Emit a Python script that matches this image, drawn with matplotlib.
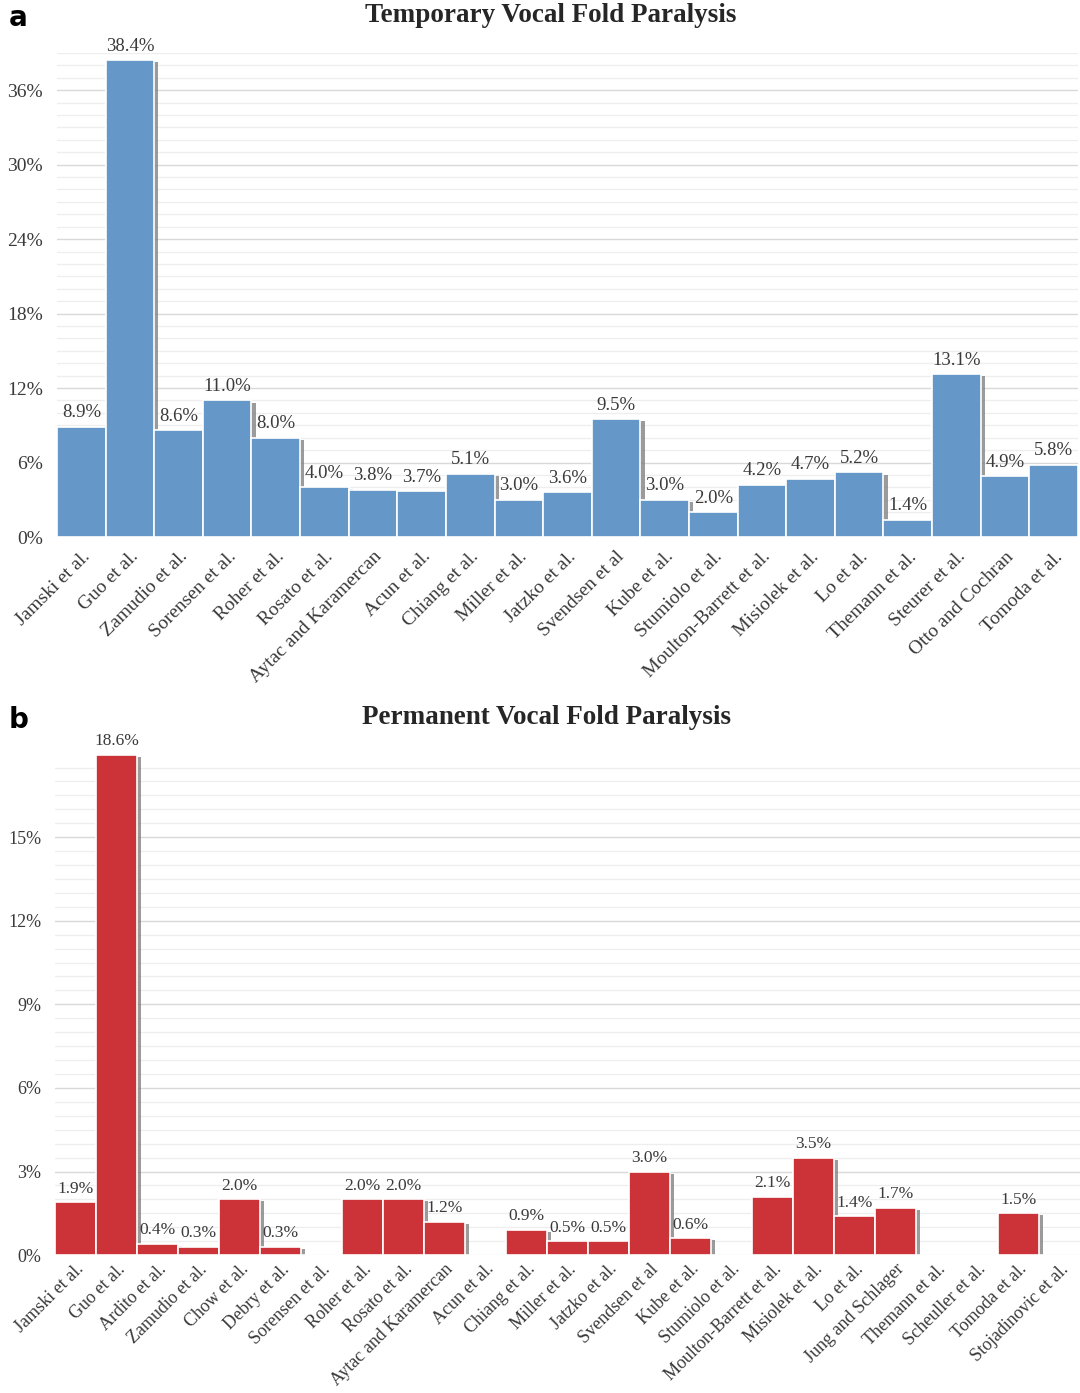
import matplotlib
matplotlib.use('Agg')
from matplotlib import pyplot as plt
import matplotlib.patheffects as pe
from matplotlib.ticker import MultipleLocator, FuncFormatter

plt.rcParams['font.family'] = ['Liberation Serif', 'DejaVu Serif']

temp_studies = ['Jamski et al.', 'Guo et al.', 'Zamudio et al.', 'Sorensen et al.', 'Roher et al.',
                'Rosato et al.', 'Aytac and Karamercan', 'Acun et al.', 'Chiang et al.', 'Miller et al.',
                'Jatzko et al.', 'Svendsen et al', 'Kube et al.', 'Stumiolo et al.', 'Moulton-Barrett et al.',
                'Misiolek et al.', 'Lo et al.', 'Themann et al.', 'Steurer et al.', 'Otto and Cochran',
                'Tomoda et al.']
temp_values = [8.9, 38.4, 8.6, 11.0, 8.0, 4.0, 3.8, 3.7, 5.1, 3.0, 3.6, 9.5, 3.0, 2.0, 4.2,
               4.7, 5.2, 1.4, 13.1, 4.9, 5.8]

perm_studies = ['Jamski et al.', 'Guo et al.', 'Ardito et al.', 'Zamudio et al.', 'Chow et al.',
                'Debry et al.', 'Sorensen et al.', 'Roher et al.', 'Rosato et al.', 'Aytac and Karamercan',
                'Acun et al.', 'Chiang et al.', 'Miller et al.', 'Jatzko et al.', 'Svendsen et al',
                'Kube et al.', 'Stumiolo et al.', 'Moulton-Barrett et al.', 'Misiolek et al.', 'Lo et al.',
                'Jung and Schlager', 'Themann et al.', 'Scheuller et al.', 'Tomoda et al.',
                'Stojadinovic et al.']
perm_values = [1.9, 18.6, 0.4, 0.3, 2.0, 0.3, 0.0, 2.0, 2.0, 1.2, 0.0, 0.9, 0.5, 0.5, 3.0,
               0.6, 0.0, 2.1, 3.5, 1.4, 1.7, 0.0, 0.0, 1.5, 0.0]

TEXT = '#3a3a3a'


def panel(ax, names, values, color, top, major, minor, fs, pad):
    x = list(range(len(names)))
    shown = [min(v, top) for v in values]
    bars = ax.bar(x, shown, width=1.0, color=color, edgecolor='white', linewidth=1.2, zorder=3)
    for b in bars:
        b.set_path_effects([pe.SimplePatchShadow(offset=(3, -1.5), shadow_rgbFace='#7a7a7a', alpha=0.75),
                            pe.Normal()])
    for xi, v, s in zip(x, values, shown):
        if v > 0:
            ax.annotate(f'{v:.1f}%', (xi, s), xytext=(0, 4), textcoords='offset points',
                        ha='center', va='bottom', fontsize=fs - 0.5, color=TEXT, annotation_clip=False)
    ax.set_xlim(-0.5, len(names) - 0.5)
    ax.set_ylim(0, top)
    ax.yaxis.set_major_locator(MultipleLocator(major))
    ax.yaxis.set_minor_locator(MultipleLocator(minor))
    ax.yaxis.set_major_formatter(FuncFormatter(lambda v, p: f'{v:.0f}%'))
    ax.grid(axis='y', which='major', color='#d9d9d9', linewidth=1.0, zorder=0)
    ax.grid(axis='y', which='minor', color='#eeeeee', linewidth=0.9, zorder=0)
    for s in ax.spines.values():
        s.set_visible(False)
    ax.axhline(0, color='#d0d0d0', linewidth=1.0, zorder=2)
    ax.tick_params(axis='both', which='both', length=0, colors=TEXT, labelsize=fs)
    ax.set_xticks(x)
    ax.set_xticklabels(names, rotation=45, ha='right', rotation_mode='anchor', fontsize=fs)
    ax.tick_params(axis='x', pad=pad)
    ax.tick_params(axis='y', pad=10)


fig = plt.figure(figsize=(10.8, 13.93), dpi=100)
ax_a = fig.add_axes([0.0528, 0.6145, 0.9452, 0.3475])
ax_b = fig.add_axes([0.051, 0.099, 0.949, 0.359])

panel(ax_a, temp_studies, temp_values, '#6597c9', 39, 6, 1, 14, 8)
panel(ax_b, perm_studies, perm_values, '#cc3338', 17.95, 3, 0.5, 13, 4)

fig.text(0.510, 1 - 16 / 1393, 'Temporary Vocal Fold Paralysis', fontsize=19.5, fontweight='bold',
         color='#262626', ha='center', va='center')
fig.text(0.506, 1 - 718 / 1393, 'Permanent Vocal Fold Paralysis', fontsize=19.5, fontweight='bold',
         color='#262626', ha='center', va='center')
fig.text(0.008, 1 - 18 / 1393, 'a', fontsize=20, fontweight='bold', family='DejaVu Sans',
         ha='left', va='center')
fig.text(0.008, 1 - 720 / 1393, 'b', fontsize=20, fontweight='bold', family='DejaVu Sans',
         ha='left', va='center')

fig.savefig('out.png', dpi=100)
